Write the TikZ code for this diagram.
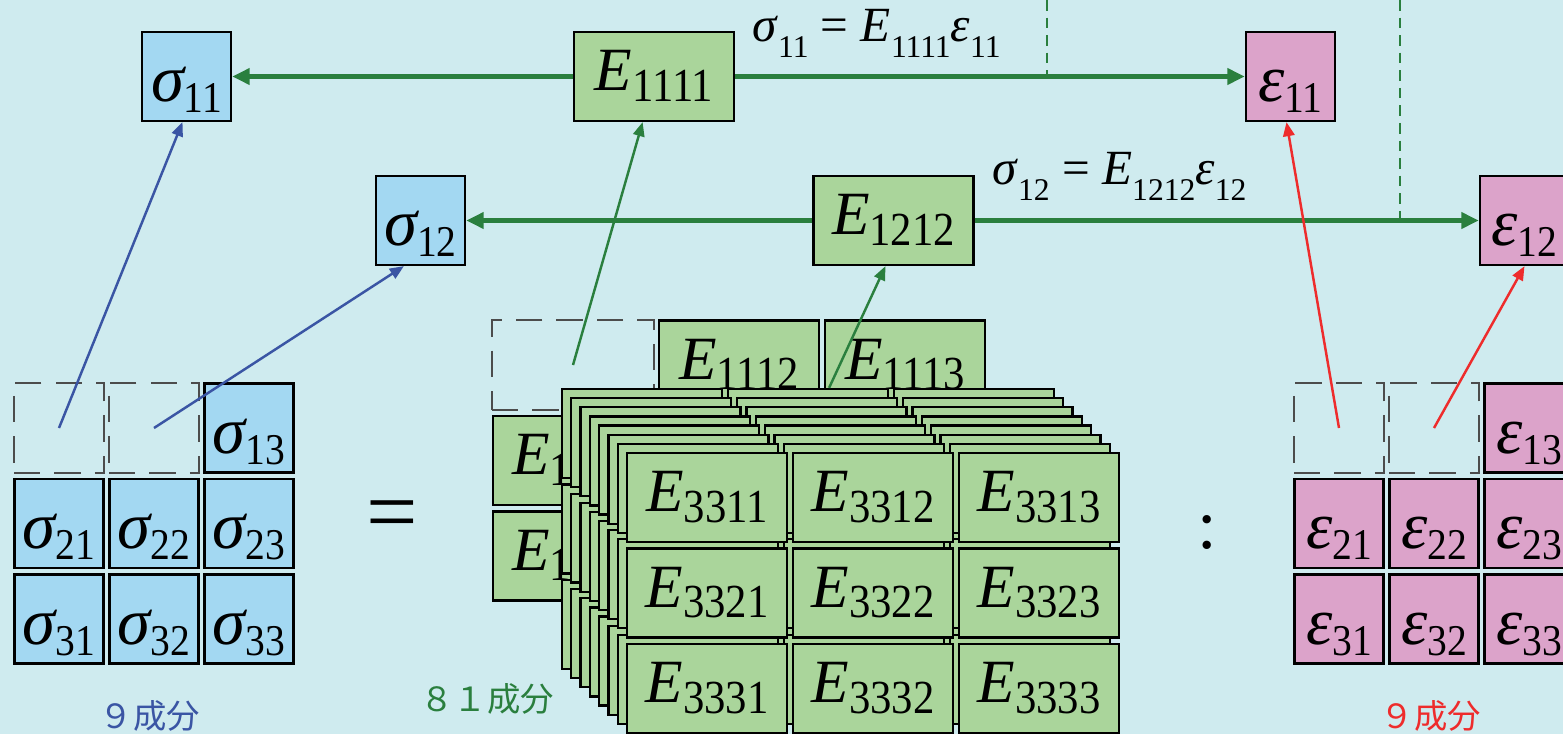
\documentclass[tikz,border=0pt]{standalone}
\usepackage{fontspec}
\setmainfont{Liberation Serif}
\newfontfamily\cjk{Noto Sans CJK JP}
\usepackage{graphicx}
\usetikzlibrary{arrows.meta, positioning}

\definecolor{bgc}{HTML}{CFEBEF}
\definecolor{sigfill}{HTML}{A3D8F2}
\definecolor{efill}{HTML}{AAD59B}
\definecolor{epsfill}{HTML}{DCA3CA}
\definecolor{egreen}{HTML}{2A7F3E}
\definecolor{sblue}{HTML}{3A55A4}
\definecolor{ered}{HTML}{EE2C2C}

\newcommand{\tlab}[4]{{\fontsize{#1}{#1}\selectfont\itshape #2}\raisebox{-6pt}{\fontsize{#3}{#3}\selectfont\scalebox{0.9}[1]{#4}}}
\newcommand{\Sg}[1]{\tlab{38}{σ}{25}{#1}}
\newcommand{\Ep}[1]{\tlab{38}{ε}{25}{#1}}
\newcommand{\Ec}[1]{\tlab{35}{E}{27}{#1}}
\newcommand{\lo}[1]{\raisebox{-9.5pt}{\fontsize{18}{18}\selectfont #1}}

\begin{document}
\begin{tikzpicture}[
    x=0.02cm, y=-0.02cm,
    cell/.style={rectangle, draw, line width=1.3pt, inner sep=0pt, minimum width=1.78cm, minimum height=1.78cm, text height=29pt, text depth=0pt},
    sig/.style={cell, fill=sigfill},
    eps/.style={cell, fill=epsfill},
    ebox/.style={cell, fill=efill, minimum width=3.2cm, text height=16pt},
    ghost/.style={rectangle, draw=black!70, line width=0.7pt, dash pattern=on 15pt off 8pt, inner sep=0pt, minimum width=1.8cm, minimum height=1.8cm},
    flow/.style={draw=egreen, line width=2.8pt, -{Triangle[length=10pt,width=9pt]}},
    link/.style={line width=1.4pt, -{Triangle[length=8pt,width=6.5pt]}},
    guide/.style={draw=egreen, line width=1.1pt, dash pattern=on 6pt off 4pt},
    rel/.style={anchor=base west, inner sep=0pt, font=\fontsize{28}{28}\selectfont},
    cnt/.style={font=\cjk\fontsize{19}{19}\selectfont}
  ]
  \useasboundingbox (0,0) rectangle (1563,734);
  \fill[bgc] (0,0) rectangle (1563,734);

  % two sample relations
  \node[sig]  (s11)   at (186.5,76.5)  {\Sg{11}};
  \node[ebox] (E1111) at (654,76.5)    {\Ec{1111}};
  \node[eps]  (e11)   at (1290.5,76.5) {\Ep{11}};
  \node[sig]  (s12)   at (420.5,220.5) {\Sg{12}};
  \node[ebox] (E1212) at (893.5,220.5) {\Ec{1212}};
  \node[eps]  (e12)   at (1524.5,220.5) {\Ep{12}};
  \node[rel] (rel11) at (752,41)  {\textit{σ}\lo{11} = \textit{E}\lo{1111}\textit{ε}\lo{11}};
  \node[rel] (rel12) at (992,184) {\textit{σ}\lo{12} = \textit{E}\lo{1212}\textit{ε}\lo{12}};

  \coordinate (vd1) at (1047,0);
  \coordinate (vd2) at (1400,0);
  \draw[guide] (vd1) -- (vd1 |- E1111);
  \draw[guide] (vd2) -- (vd2 |- E1212);
  \draw[flow] (E1111) -- (s11);
  \draw[flow] (E1111) -- (e11);
  \draw[flow] (E1212) -- (s12);
  \draw[flow] (E1212) -- (e12);

  % stiffness layers, back to front
  \node[ghost, minimum width=3.24cm] (g1111) at (573,365) {};
  \foreach \r/\c in {1/2,1/3,2/1,3/1}
    \node[ebox] (g11\r\c) at ({573+166*(\c-1)},{365+95.5*(\r-1)}) {\Ec{11\r\c}};
  \foreach \r/\c in {2/2,2/3,3/2,3/3}
    \node[ebox] (g11\r\c) at ({573+166*(\c-1)},{365+95.5*(\r-1)}) {};
  \draw[link, draw=egreen] (g1111.center) -- (E1111.-104);

  \foreach \r in {1,2,3}
    \foreach \c in {1,2,3}
      \node[ebox] (g12\r\c) at ({642+166*(\c-1)},{433.5+95.5*(\r-1)}) {};
  \draw[link, draw=egreen] (g1212) -- (E1212.-100);

  \foreach \m/\ij in {3/13,4/21,5/22,6/23,7/31,8/32}
    \foreach \r in {1,2,3}
      \foreach \c in {1,2,3}
        \node[ebox] (g\ij\r\c) at ({642+9.29*(\m-2)+166*(\c-1)},{433.5+9.14*(\m-2)+95.5*(\r-1)}) {};

  \foreach \r in {1,2,3}
    \foreach \c in {1,2,3}
      \node[ebox] (g33\r\c) at ({707+166*(\c-1)},{497.5+95.5*(\r-1)}) {\Ec{33\r\c}};

  % stress and strain grids
  \foreach \r/\c in {1/1,1/2} {
    \node[ghost] (sg\r\c) at ({59+95*(\c-1)},{428+95.5*(\r-1)}) {};
    \node[ghost] (eg\r\c) at ({1339+95*(\c-1)},{428+95.5*(\r-1)}) {};
  }
  \foreach \r/\c in {1/3,2/1,2/2,2/3,3/1,3/2,3/3} {
    \node[sig] (sg\r\c) at ({59+95*(\c-1)},{428+95.5*(\r-1)}) {\Sg{\r\c}};
    \node[eps] (eg\r\c) at ({1339+95*(\c-1)},{428+95.5*(\r-1)}) {\Ep{\r\c}};
  }
  \draw[link, draw=sblue] (sg11.center) -- (s11.-95);
  \draw[link, draw=sblue] (sg12.center) -- (s12.-110);
  \draw[link, draw=ered] (eg11.center) -- (e11.-95);
  \draw[link, draw=ered] (eg12.center) -- (e12.south);

  \node[font=\fontsize{52}{52}\selectfont] (eqs) at (392,522) {=};
  \node[font=\fontsize{40}{40}\selectfont] (colon) at (1207,533) {:};
  \node[cnt, text=sblue]  (n9s) at (150,716)  {９成分};
  \node[cnt, text=egreen] (n81) at (487,699)  {８１成分};
  \node[cnt, text=ered]   (n9e) at (1431,716) {９成分};
\end{tikzpicture}
\end{document}
